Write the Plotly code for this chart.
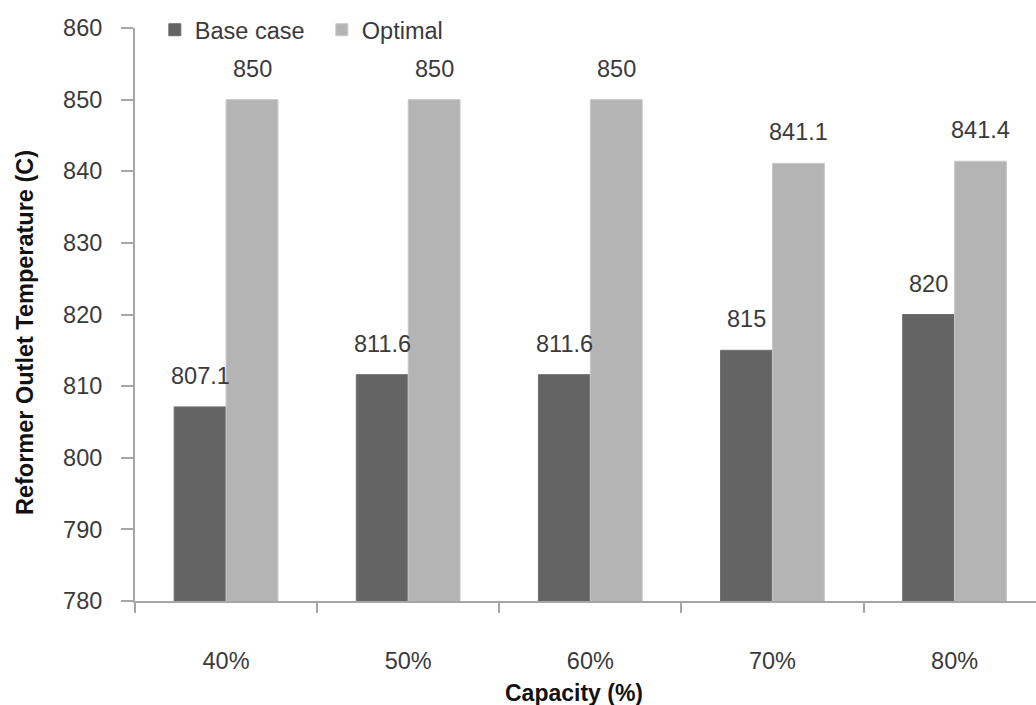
import plotly.graph_objects as go

categories = ["40%", "50%", "60%", "70%", "80%"]
base_case = [807.1, 811.6, 811.6, 815, 820]
optimal = [850, 850, 850, 841.1, 841.4]
base_labels = ["807.1", "811.6", "811.6", "815", "820"]
opt_labels = ["850", "850", "850", "841.1", "841.4"]

FONT = "Liberation Sans, Arial, sans-serif"
TXT = "#3a3a3a"
AX = "#a6a6a6"
BARGAP = 0.43
FS = 23.5

fig = go.Figure()
fig.add_trace(go.Bar(x=categories, y=base_case, name="Base case",
                     marker=dict(color="#646464", line=dict(color="#6e6e6e", width=1))))
fig.add_trace(go.Bar(x=categories, y=optimal, name="Optimal",
                     marker=dict(color="#b4b4b4", line=dict(color="#c8c8c8", width=1))))

off = (1 - BARGAP) / 4
anns = []
for i, (b, o, bl, ol) in enumerate(zip(base_case, optimal, base_labels, opt_labels)):
    anns.append(dict(x=i - off, y=b, text=bl, showarrow=False, yshift=31,
                     xref="x", yref="y", font=dict(size=FS, color=TXT, family=FONT)))
    anns.append(dict(x=i + off, y=o, text=ol, showarrow=False, yshift=31,
                     xref="x", yref="y", font=dict(size=FS, color=TXT, family=FONT)))

# axis titles
anns.append(dict(text="<b>Capacity (%)</b>", x=0.487, y=-0.1606, xref="paper", yref="paper",
                 xanchor="center", yanchor="middle", showarrow=False,
                 font=dict(size=23, color="#111111", family=FONT)))
anns.append(dict(text="<b>Reformer Outlet Temperature (C)</b>", x=-0.122, y=0.4677,
                 xref="paper", yref="paper", xanchor="center", yanchor="middle",
                 textangle=-90, showarrow=False,
                 font=dict(size=23.5, color="#111111", family=FONT)))

fig.update_layout(
    width=1036, height=705,
    margin=dict(l=135, r=0, t=28, b=104),
    paper_bgcolor="white", plot_bgcolor="white",
    barmode="group", bargap=BARGAP, bargroupgap=0,
    font=dict(family=FONT, color=TXT, size=FS),
    annotations=anns,
    legend=dict(orientation="h", x=0.022, y=1.035, xanchor="left", yanchor="top",
                font=dict(size=FS, color=TXT, family=FONT), bgcolor="rgba(0,0,0,0)",
                itemwidth=30, tracegroupgap=0, entrywidth=122, entrywidthmode="pixels"),
    xaxis=dict(
        type="category", range=[-0.5, 4.447],
        showline=True, linecolor=AX, linewidth=2,
        ticks="outside", tickson="boundaries", ticklen=10, tickcolor=AX, tickwidth=1.5,
        ticklabelstandoff=38,
        tickfont=dict(size=FS, color=TXT, family=FONT),
        showgrid=False, zeroline=False,
    ),
    yaxis=dict(
        range=[780, 860], dtick=10, tick0=780,
        showline=True, linecolor=AX, linewidth=2,
        ticks="outside", ticklen=12, tickcolor=AX, tickwidth=1.5,
        ticklabelstandoff=14,
        tickfont=dict(size=FS, color=TXT, family=FONT),
        showgrid=False, zeroline=False,
    ),
)

fig.write_html("out.html")
